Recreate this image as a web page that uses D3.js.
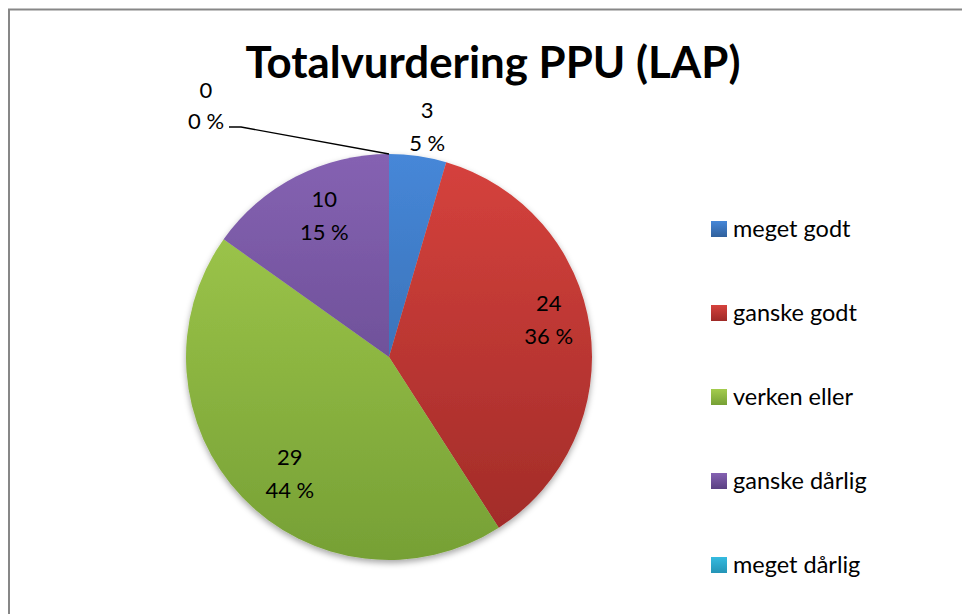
<!DOCTYPE html>
<html><head><meta charset="utf-8">
<script src="https://cdn.jsdelivr.net/npm/d3@7"></script>
<style>html,body{margin:0;padding:0;background:#fff;overflow:hidden}</style>
</head><body>
<svg id="chart" width="962" height="614"></svg>
<script>
const title = "Totalvurdering PPU (LAP)";
const categories = ["meget godt", "ganske godt", "verken eller", "ganske dårlig", "meget dårlig"];
const values = [3, 24, 29, 10, 0];
const percents = ["5 %", "36 %", "44 %", "15 %", "0 %"];
const colorsTop = ["#4687d8", "#d6423d", "#a4cc4e", "#8562b2", "#35bbe0"];
const colorsBottom = ["#30609c", "#9e2a27", "#76a035", "#5a4082", "#2494b6"];

const svg = d3.select("#chart");
const font = "Lato, 'Open Sans', sans-serif";

// frame
svg.append("rect").attr("x", 9).attr("y", 9.5).attr("width", 1000).attr("height", 700)
  .attr("fill", "#fff").attr("stroke", "#878787").attr("stroke-width", 2);

// title
const t = svg.append("text").attr("x", 493).attr("y", 78).attr("text-anchor", "middle")
  .attr("font-family", font).attr("font-weight", "bold").attr("font-size", 40)
  .attr("fill", "#000").text(title);
const tl = t.node().getComputedTextLength();
t.attr("font-size", 40 * 495 / tl);

const cx = 389, cy = 357, r = 203;
const total = d3.sum(values);
const defs = svg.append("defs");
categories.forEach((c, i) => {
  const g = defs.append("linearGradient").attr("id", "g" + i)
    .attr("gradientUnits", "userSpaceOnUse").attr("x1", 0).attr("y1", -r).attr("x2", 0).attr("y2", r);
  g.append("stop").attr("offset", "0%").attr("stop-color", colorsTop[i]);
  g.append("stop").attr("offset", "100%").attr("stop-color", colorsBottom[i]);
  const lg = defs.append("linearGradient").attr("id", "lg" + i).attr("x1", 0).attr("y1", 0).attr("x2", 0).attr("y2", 1);
  lg.append("stop").attr("offset", "0%").attr("stop-color", colorsTop[i]);
  lg.append("stop").attr("offset", "100%").attr("stop-color", colorsBottom[i]);
});
const f = defs.append("filter").attr("id", "sh").attr("x", "-20%").attr("y", "-20%").attr("width", "140%").attr("height", "140%");
f.append("feDropShadow").attr("dx", 0).attr("dy", 3).attr("stdDeviation", 3).attr("flood-color", "#000").attr("flood-opacity", 0.35);

const pie = d3.pie().sort(null).value(d => d)(values);
const arc = d3.arc().innerRadius(0).outerRadius(r);
const pg = svg.append("g").attr("transform", `translate(${cx},${cy})`);
pg.append("g").attr("filter", "url(#sh)").selectAll("path").data(pie).join("path")
  .attr("d", arc).attr("fill", (d, i) => `url(#g${i})`);

// labels (layout nudges emulate Excel's best-fit placement)
const labelNudge = [[5, 0], [5, -16], [14, 8], [7, -3], [0, 0]];
const lbl = svg.append("g").attr("font-family", font).attr("font-size", 22).attr("fill", "#000").attr("text-anchor", "middle");
pie.forEach((d, i) => {
  if (d.value === 0) return;
  const share = d.value / total;
  const lr = share < 0.1 ? r * 1.15 : r * 0.77;
  const a = (d.startAngle + d.endAngle) / 2;
  const x = cx + lr * Math.sin(a) + labelNudge[i][0];
  const y = cy - lr * Math.cos(a) + labelNudge[i][1];
  lbl.append("text").attr("x", x).attr("y", y - 8).text(d.value);
  lbl.append("text").attr("x", x).attr("y", y + 25).text(percents[i]);
});
// zero slice label with leader
pie.forEach((d, i) => {
  if (d.value !== 0) return;
  const ax = cx + r * Math.sin(d.startAngle), ay = cy - r * Math.cos(d.startAngle);
  svg.append("polyline").attr("points", `${ax},${ay} ${ax - 148},${ay - 27} ${ax - 160},${ay - 27}`)
    .attr("fill", "none").attr("stroke", "#000").attr("stroke-width", 1.3);
  lbl.append("text").attr("x", ax - 183).attr("y", ay - 56).text(d.value);
  lbl.append("text").attr("x", ax - 183).attr("y", ay - 25).text(percents[i]);
});

// legend
const lgG = svg.append("g").attr("font-family", font).attr("font-size", 23.5);
categories.forEach((c, i) => {
  const y = 229 + i * 84;
  lgG.append("rect").attr("x", 711).attr("y", y - 8).attr("width", 16).attr("height", 16).attr("fill", `url(#lg${i})`);
  lgG.append("text").attr("x", 733).attr("y", y + 8).attr("fill", "#000").text(c);
});
</script>
</body></html>
